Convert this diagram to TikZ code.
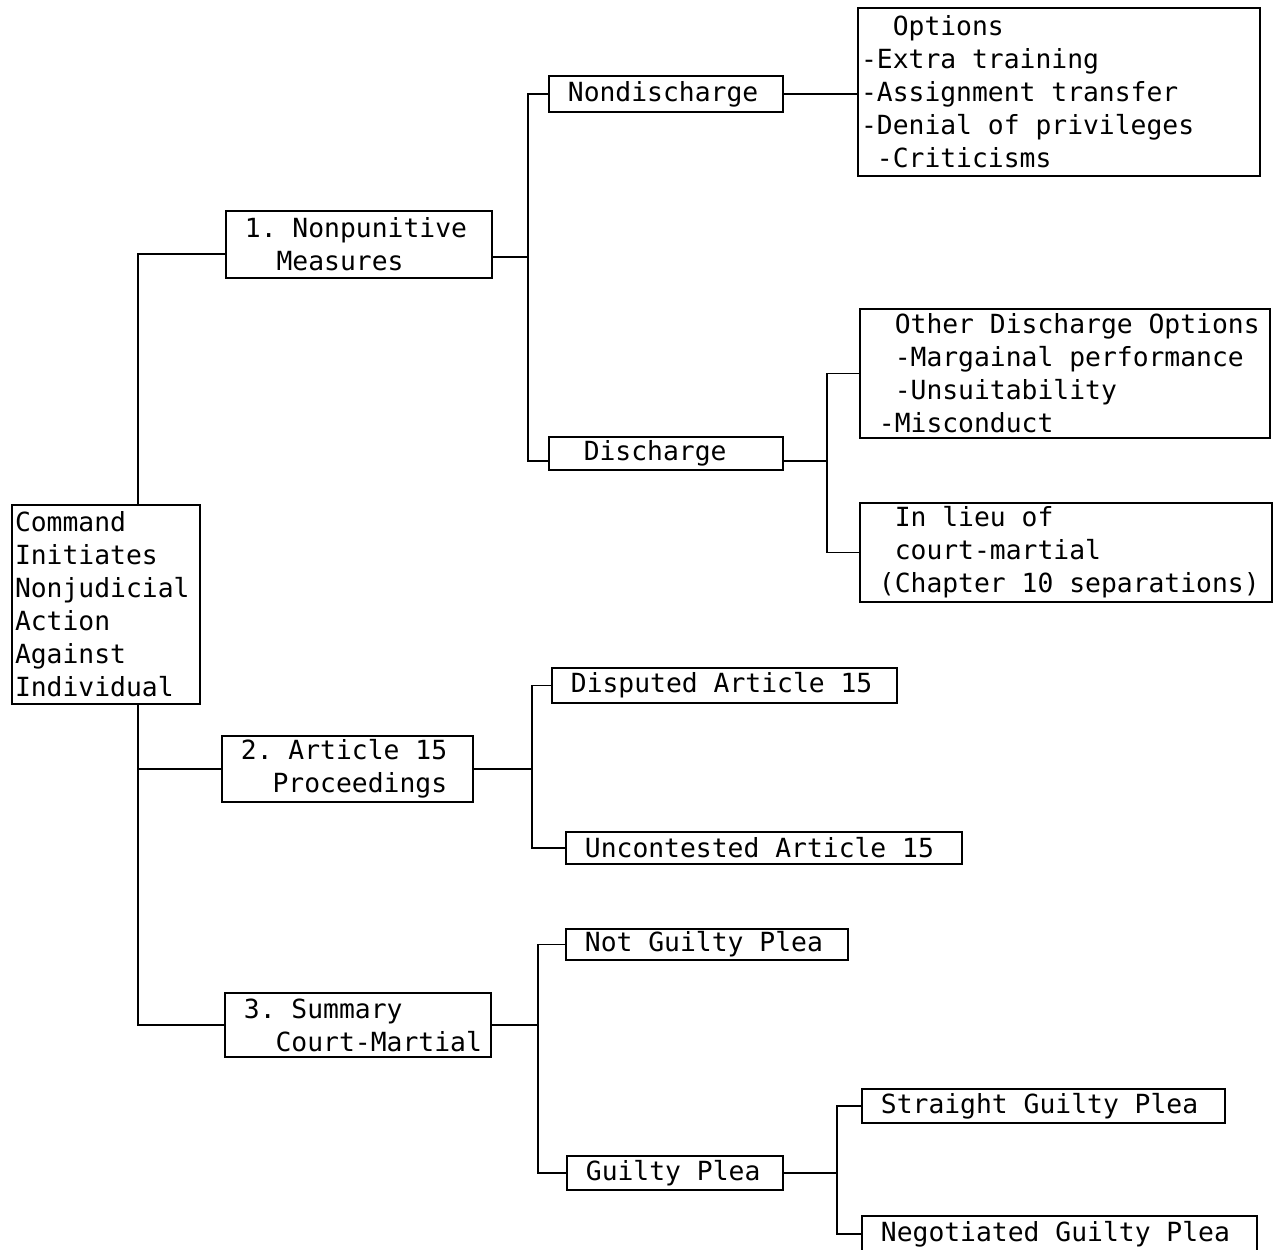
\documentclass[tikz,border=0pt]{standalone}
\usepackage{fontspec}
\setmonofont{DejaVu Sans Mono}
\usetikzlibrary{positioning}
\newcommand{\chsp}{\phantom{0}}

\begin{document}
\begin{tikzpicture}[
    x=0.02cm, y=-0.02cm,
    box/.style={draw, line width=1.1pt, inner xsep=0.06cm, inner ysep=0pt, align=flush left,
        font=\ttfamily\fontsize{15}{18.8}\selectfont,
        execute at begin node={\spaceskip=9.03pt\xspaceskip=9.03pt}},
    link/.style={line width=1.1pt}
]
\useasboundingbox (0,0) rectangle (1276,1249);

% Root
\node[box, text width=3.64cm, minimum height=3.98cm] (cmd) at (106,604.5)
    {Command\\Initiates\\Nonjudicial\\Action\\Against\\Individual};

% First level
\node[box, text width=5.2cm, minimum height=1.34cm] (np) at (359,244.5)
    {\chsp 1. Nonpunitive\\\chsp\chsp\chsp Measures};
\node[box, text width=4.9cm, minimum height=1.32cm] (art) at (347.5,769)
    {\chsp 2. Article 15\\\chsp\chsp\chsp Proceedings};
\node[box, text width=5.2cm, minimum height=1.28cm] (sum) at (358,1025)
    {\chsp 3. Summary\\\chsp\chsp\chsp Court-Martial};

% Nonpunitive branch
\node[box, text width=4.56cm, minimum height=0.72cm] (nondis) at (666,94)
    {\chsp Nondischarge};
\node[box, text width=4.56cm, minimum height=0.66cm] (dis) at (666,453.5)
    {\chsp\chsp Discharge};
\node[box, text width=7.92cm, minimum height=3.36cm] (opts) at (1059,92)
    {\chsp\chsp Options\\-Extra training\\-Assignment transfer\\-Denial of privileges\\\chsp -Criticisms};
\node[box, text width=8.08cm, minimum height=2.58cm] (other) at (1065,373.5)
    {\chsp\chsp Other Discharge Options\\\chsp\chsp -Margainal performance\\\chsp\chsp -Unsuitability\\\chsp -Misconduct};
\node[box, text width=8.12cm, minimum height=1.98cm] (lieu) at (1066,552.5)
    {\chsp\chsp In lieu of\\\chsp\chsp court-martial\\\chsp (Chapter 10 separations)};

% Article 15 branch
\node[box, text width=6.78cm, minimum height=0.7cm] (disp) at (724.5,685.5)
    {\chsp Disputed Article 15};
\node[box, text width=7.8cm, minimum height=0.64cm] (uncon) at (764,848)
    {\chsp Uncontested Article 15};

% Court-martial branch
\node[box, text width=5.52cm, minimum height=0.62cm] (notg) at (707,944.5)
    {\chsp Not Guilty Plea};
\node[box, text width=4.2cm, minimum height=0.68cm] (guilty) at (675,1173)
    {\chsp Guilty Plea};
\node[box, text width=7.14cm, minimum height=0.68cm] (straight) at (1043.5,1106)
    {\chsp Straight Guilty Plea};
\node[box, text width=7.78cm, minimum height=0.72cm] (negot) at (1059.5,1234)
    {\chsp Negotiated Guilty Plea};

% Trunk
\coordinate (trunka) at ([xshift=0.64cm]cmd.north);
\coordinate (trunkb) at ([xshift=0.64cm]cmd.south);
\draw[link] (trunka) |- ([yshift=-0.19cm]np.west);
\draw[link] (trunkb) |- (sum.west);
\draw[link] (trunkb |- art.west) -- (art.west);

% Forks
\coordinate (f1) at ([xshift=0.7cm,yshift=-0.25cm]np.east);
\draw[link] ([yshift=-0.25cm]np.east) -- (f1);
\draw[link] (nondis.west) -| (f1) |- ([yshift=-0.15cm]dis.west);
\draw[link] (nondis.east) -- (nondis.east -| opts.west);

\coordinate (f2) at ([xshift=0.86cm,yshift=-0.15cm]dis.east);
\draw[link] ([yshift=-0.15cm]dis.east) -- (f2);
\draw[link] (other.west) -| (f2) |- (lieu.west);

\coordinate (f3) at ([xshift=1.16cm]art.east);
\draw[link] (art.east) -- (f3);
\draw[link] (disp.west) -| (f3) |- (uncon.west);

\coordinate (f4) at ([xshift=0.92cm]sum.east);
\draw[link] (sum.east) -- (f4);
\draw[link] (notg.west) -| (f4) |- (guilty.west);

\coordinate (f5) at ([xshift=1.06cm]guilty.east);
\draw[link] (guilty.east) -- (f5);
\draw[link] (straight.west) -| (f5) |- (negot.west);

\end{tikzpicture}
\end{document}
